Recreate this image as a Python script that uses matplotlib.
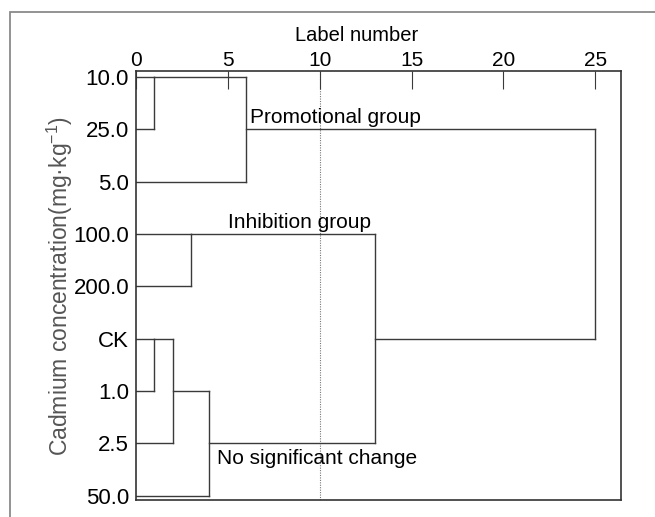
import matplotlib
matplotlib.use("Agg")
import matplotlib.pyplot as plt
from matplotlib.patches import Rectangle

plt.rcParams['font.family'] = ['Liberation Sans', 'DejaVu Sans']
plt.rcParams['mathtext.fontset'] = 'custom'
plt.rcParams['mathtext.rm'] = 'Liberation Sans'
plt.rcParams['mathtext.it'] = 'Liberation Sans'

# leaves, top to bottom
leaves = ["10.0", "25.0", "5.0", "100.0", "200.0", "CK", "1.0", "2.5", "50.0"]
# merges: (left, right, rescaled distance); new cluster ids start at len(leaves)
merges = [
    (0, 1, 1),     # 10.0 + 25.0
    (9, 2, 6),     # + 5.0
    (3, 4, 3),     # 100.0 + 200.0
    (5, 6, 1),     # CK + 1.0
    (12, 7, 2),    # + 2.5
    (13, 8, 4),    # + 50.0
    (11, 14, 13),  # inhibition + no change
    (10, 15, 25),  # all
]
x_ticks = [0, 5, 10, 15, 20, 25]
groups = ["Promotional group", "Inhibition group", "No significant change"]
group_anchor = [(6.2, 1), (5.0, 3), (4.4, 7)]

line_col = "#3a3a3a"

fig = plt.figure(figsize=(6.55, 5.17), dpi=100)
ax = fig.add_axes([136 / 655, 1 - 500 / 517, 485 / 655, 429 / 517])

# outer frame (cropped)
fig.patches.append(Rectangle((10 / 655, -0.1), 1.2, 1 - 12 / 517 + 0.1,
                             transform=fig.transFigure, fill=False,
                             edgecolor="#8a8a8a", linewidth=1.3))

n = len(leaves)
pos = {i: i for i in range(n)}
height = {i: 0 for i in range(n)}
for k, (a, b, d) in enumerate(merges):
    cid = n + k
    ya, yb = pos[a], pos[b]
    ax.plot([height[a], d], [ya, ya], color=line_col, lw=1)
    ax.plot([height[b], d], [yb, yb], color=line_col, lw=1)
    ax.plot([d, d], [ya, yb], color=line_col, lw=1)
    if a < n and b < n:
        pos[cid] = min(ya, yb)
    else:
        pos[cid] = (ya + yb) / 2
    height[cid] = d

ax.axvline(10, color="#777777", lw=0.8, linestyle=(0, (1, 1.2)), zorder=0)

for txt, (gx, gy) in zip(groups, group_anchor):
    if gy == 7:
        ax.text(gx, gy + 0.1, txt, fontsize=15, va="top", ha="left")
    else:
        ax.text(gx, gy - 0.04, txt, fontsize=15, va="bottom", ha="left")

ax.set_xlim(0, 26.4)
ax.set_ylim(8.08, -0.11)
ax.set_yticks(range(n))
ax.set_yticklabels(leaves, fontsize=16)
ax.set_xticks(x_ticks)
ax.tick_params(axis="y", length=0, pad=5)
ax.tick_params(axis="x", direction="in", length=13, top=True, bottom=False,
               labeltop=True, labelbottom=False, labelsize=15, pad=1,
               color=line_col)
ax.xaxis.set_label_position("top")
ax.set_xlabel("Label number", fontsize=14.5)
ax.xaxis.set_label_coords(0.454, 1.07)
ax.set_ylabel(r"Cadmium concentration(mg·kg$^{-1}$)", fontsize=16.5,
              color="#555555")
ax.yaxis.set_label_coords(-0.125, 0.5)
for s in ax.spines.values():
    s.set_color("#333333")
    s.set_linewidth(1.2)

fig.savefig("out.png", dpi=100)
